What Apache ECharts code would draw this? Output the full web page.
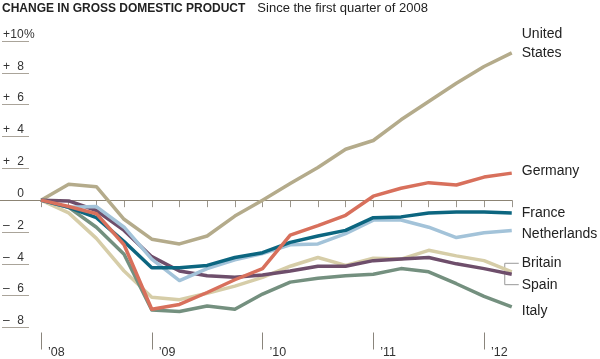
<!DOCTYPE html>
<html><head><meta charset="utf-8">
<script src="https://cdn.jsdelivr.net/npm/echarts@6/dist/echarts.min.js"></script>
<style>html,body{margin:0;padding:0;background:#fff}#c{width:600px;height:359px}</style>
</head><body><div id="c"></div>
<script>
// Quarters: Q1 2008 .. Q2 2012
const quarters = ['2008 Q1','2008 Q2','2008 Q3','2008 Q4','2009 Q1','2009 Q2','2009 Q3','2009 Q4',
  '2010 Q1','2010 Q2','2010 Q3','2010 Q4','2011 Q1','2011 Q2','2011 Q3','2011 Q4','2012 Q1','2012 Q2'];
// Y-axis tick values (percent change)
const yTicks = [-8, -6, -4, -2, 0, 2, 4, 6, 8, 10];

const unitedStates = [0, 1.0, 0.85, -1.2, -2.45, -2.75, -2.25, -1.0, 0, 1.05, 2.05, 3.2, 3.75, 5.05, 6.2, 7.35, 8.4, 9.25];
const germany      = [0, -0.4, -0.85, -2.8, -6.85, -6.55, -5.8, -5.0, -4.3, -2.2, -1.6, -0.95, 0.25, 0.75, 1.1, 0.95, 1.45, 1.7];
const france       = [0, -0.45, -1.1, -2.6, -4.25, -4.25, -4.1, -3.6, -3.3, -2.65, -2.25, -1.9, -1.1, -1.05, -0.8, -0.75, -0.75, -0.8];
const netherlands  = [0, -0.45, -0.4, -1.7, -3.7, -5.05, -4.3, -3.75, -3.35, -2.8, -2.75, -2.1, -1.25, -1.25, -1.7, -2.35, -2.05, -1.9];
const britain      = [0, -0.8, -2.4, -4.45, -6.1, -6.25, -5.85, -5.4, -4.85, -4.15, -3.6, -4.1, -3.65, -3.7, -3.15, -3.5, -3.8, -4.5];
const spain        = [0, -0.05, -0.65, -1.9, -3.55, -4.45, -4.75, -4.85, -4.7, -4.45, -4.15, -4.15, -3.8, -3.7, -3.6, -4.0, -4.3, -4.65];
const italy        = [0, -0.45, -1.7, -3.4, -6.9, -7.0, -6.65, -6.85, -5.9, -5.15, -4.9, -4.75, -4.65, -4.3, -4.5, -5.25, -6.05, -6.7];

const seriesDefs = [
  {name: 'United\nStates', data: unitedStates, color: '#b4ab8b', dy: -9},
  {name: 'Britain', data: britain, color: '#d6cda8', dy: -8.5},
  {name: 'Italy', data: italy, color: '#74907f', dy: 4.5},
  {name: 'Spain', data: spain, color: '#6e4e6b', dy: 10.5},
  {name: 'Netherlands', data: netherlands, color: '#a3c3d9', dy: 3.5},
  {name: 'France', data: france, color: '#0c6680', dy: 0.5},
  {name: 'Germany', data: germany, color: '#d8705c', dy: -1.5}
];

const FONT = '"Liberation Sans", Arial, Helvetica, sans-serif';
const chart = echarts.init(document.getElementById('c'), null, {renderer: 'canvas'});

// Reference lines: full-width zero line and short underlines beneath each y label
const refLines = [[{x: 0, yAxis: 0}, {x: 512, yAxis: 0}]];
const tickLines = yTicks.filter(v => v !== 0).map(v => [{x: 2, yAxis: v}, {x: 29, yAxis: v}]);

const option = {
  animation: false,
  backgroundColor: '#fff',
  title: {
    left: 2, top: 2, padding: 0,
    text: '{a|CHANGE IN GROSS DOMESTIC PRODUCT}{b|Since the first quarter of 2008}',
    textStyle: {
      fontWeight: 'normal',
      rich: {
        a: {fontFamily: FONT, fontSize: 12, fontWeight: 'bold', color: '#222'},
        b: {fontFamily: FONT, fontSize: 13, fontWeight: 'normal', color: '#222', padding: [0, 0, 0, 12]}
      }
    }
  },
  grid: {left: 40, right: 88.25, top: 41, bottom: 30, containLabel: false},
  xAxis: [{
    type: 'category', data: quarters, boundaryGap: false, position: 'bottom', offset: 5,
    axisLine: {show: false},
    axisTick: {show: true, length: 7, interval: 0, lineStyle: {color: '#9a958c', width: 1}},
    axisLabel: {show: false}, splitLine: {show: false}
  }, {
    type: 'category', data: quarters, boundaryGap: false, position: 'bottom', offset: 5,
    axisLine: {show: false},
    axisTick: {show: true, length: 17, interval: 3, lineStyle: {color: '#8a857c', width: 1}},
    axisLabel: {
      show: true, interval: 3, align: 'left', verticalAlign: 'middle', margin: 20,
      padding: [0, 0, 0, 7], fontFamily: FONT, fontSize: 12.5, color: '#333',
      formatter: v => '\u2019' + v.slice(2, 4)
    },
    splitLine: {show: false}
  }],
  yAxis: {
    type: 'value', min: yTicks[0], max: yTicks[yTicks.length - 1], interval: 2,
    position: 'left', offset: 11,
    axisLine: {show: false},
    axisTick: {show: false},
    splitLine: {show: false},
    axisLabel: {
      show: true, align: 'left', verticalAlign: 'bottom', margin: 27,
      padding: [0, 0, 0, 0], lineHeight: 13,
      formatter: v => {
        const sign = v > 0 ? '+' : (v < 0 ? '\u2013' : '\u00a0');
        return '{s|' + sign + '}{n|' + Math.abs(v) + '}' + (v === yTicks[yTicks.length - 1] ? '{p|%}' : '');
      },
      rich: {
        s: {width: 7, align: 'left', fontFamily: FONT, fontSize: 12, color: '#333', lineHeight: 13},
        n: {width: 14, align: 'right', fontFamily: FONT, fontSize: 12, color: '#333', lineHeight: 13},
        p: {fontFamily: FONT, fontSize: 12, color: '#333', lineHeight: 13}
      }
    }
  },
  series: seriesDefs.map((s, i) => ({
    type: 'line', name: s.name, data: s.data, xAxisIndex: 0, yAxisIndex: 0,
    symbol: 'none', smooth: false, z: 3 + i,
    lineStyle: {color: s.color, width: 3.5, join: 'round'},
    itemStyle: {color: s.color},
    markLine: i === 0 ? {
      silent: true, symbol: ['none', 'none'], z: 1,
      lineStyle: {color: '#8c8474', width: 1, type: 'solid'},
      label: {show: false},
      data: refLines
    } : (i === 1 ? {
      silent: true, symbol: ['none', 'none'], z: 1,
      lineStyle: {color: '#aaa49a', width: 1, type: 'solid'},
      label: {show: false},
      data: tickLines
    } : undefined)
  }))
};
chart.setOption(option);

// End labels and Britain/Spain bracket, placed from the axis scales
const last = quarters.length - 1;
const graphics = [];
const labelPos = {};
seriesDefs.forEach(s => {
  const p = chart.convertToPixel({xAxisIndex: 0, yAxisIndex: 0}, [last, s.data[last]]);
  labelPos[s.name] = {x: p[0], y: p[1] + s.dy};
  graphics.push({
    type: 'text', z: 10,
    style: {
      x: p[0] + 10, y: p[1] + s.dy, text: s.name,
      font: '14px ' + FONT, fill: '#222', align: 'left', verticalAlign: 'middle', lineHeight: 19
    }
  });
});
const b = labelPos['Britain'], sp = labelPos['Spain'];
graphics.push({
  type: 'polyline', z: 0,
  shape: {points: [[b.x + 7, b.y], [b.x - 7, b.y], [b.x - 7, sp.y], [b.x + 7, sp.y]]},
  style: {stroke: '#999', lineWidth: 1, fill: null}
});
chart.setOption({graphic: graphics});
</script>
</body></html>
